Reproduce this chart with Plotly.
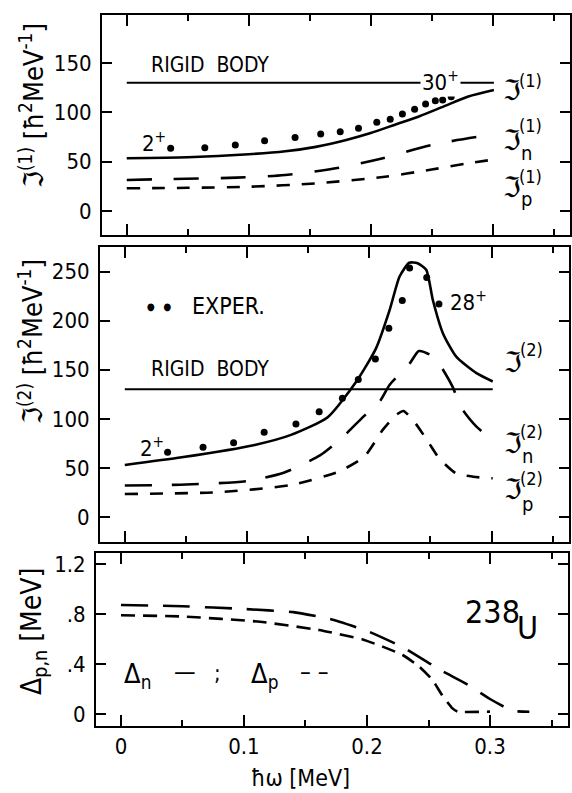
import plotly.graph_objects as go

# ---------------- data ----------------
# Panel 1: kinematic moment of inertia J(1)
hw_exp1 = [0.036, 0.064, 0.089, 0.113, 0.138, 0.159, 0.175, 0.190, 0.205, 0.216,
           0.226, 0.236, 0.245, 0.253, 0.259, 0.266]
J1_exp = [63.5, 64.1, 66.9, 71.2, 74.6, 78.0, 80.3, 83.8, 89.9, 92.9,
          98.3, 103.0, 108.4, 111.8, 112.5, 115.8]

hw_J1 = [0.0, 0.05, 0.10, 0.13, 0.155, 0.18, 0.20, 0.22, 0.24, 0.26, 0.28, 0.301]
J1_tot = [53.5, 54.5, 57.5, 60.5, 65.0, 72.0, 79.0, 87.5, 96.0, 106.0, 116.0, 122.6]

hw_J1n = [0.0, 0.03, 0.09, 0.13, 0.17, 0.21, 0.25, 0.30]
J1_n = [31.5, 32.3, 33.8, 36.5, 43.0, 53.5, 67.0, 77.5]

hw_J1p = [0.0, 0.05, 0.10, 0.155, 0.21, 0.25, 0.278, 0.30]
J1_p = [23.0, 23.5, 24.6, 28.0, 34.5, 42.0, 48.0, 52.0]

# Rigid body value (both J panels)
hw_rigid = [0.0, 0.301]
J_rigid = [130, 130]

# Panel 2: dynamic moment of inertia J(2)
hw_exp2 = [0.035, 0.064, 0.089, 0.114, 0.140, 0.159, 0.178, 0.191, 0.205, 0.216,
           0.227, 0.233, 0.247, 0.257]
J2_exp = [65.9, 71.0, 75.7, 86.3, 94.8, 107.3, 121.0, 140.0, 161.0, 192.3,
          220.5, 253.5, 244.0, 217.0]

hw_J2 = [0.0, 0.0465, 0.1063, 0.136, 0.166, 0.19, 0.2056, 0.2167, 0.2248, 0.2327,
         0.2395, 0.2466, 0.252, 0.2603, 0.2713, 0.2877, 0.301]
J2_tot = [53.0, 60.8, 73.4, 83.6, 101.6, 139.0, 172.0, 211.0, 245.0, 259.0,
          258.5, 251.8, 221.0, 187.0, 163.0, 146.5, 138.0]

hw_J2n = [0.0, 0.05, 0.10, 0.13, 0.16, 0.178, 0.195, 0.2085, 0.2167, 0.2333, 0.2405,
          0.25, 0.2577, 0.268, 0.2754, 0.2877, 0.301]
J2_n = [32.0, 33.0, 36.5, 45.0, 63.0, 81.0, 102.0, 117.5, 134.6, 156.7, 169.0,
        165.0, 155.0, 133.0, 111.0, 92.0, 78.5]

hw_J2p = [0.0, 0.0765, 0.136, 0.175, 0.196, 0.211, 0.222, 0.228, 0.238, 0.249,
          0.257, 0.271, 0.285, 0.301]
J2_p = [23.4, 25.2, 32.6, 46.2, 61.5, 88.7, 104.0, 108.0, 95.0, 75.0,
        60.0, 44.5, 41.0, 39.4]

# Panel 3: pairing gaps
hw_Dn = [0.0, 0.05, 0.10, 0.14, 0.17, 0.20, 0.23, 0.26, 0.28, 0.30, 0.311, 0.318, 0.332]
D_n = [0.872, 0.862, 0.840, 0.815, 0.760, 0.665, 0.530, 0.350, 0.245, 0.120, 0.060, 0.025, 0.018]

hw_Dp = [0.0, 0.05, 0.113, 0.161, 0.1965, 0.2127, 0.229, 0.2425, 0.2533, 0.261,
         0.2695, 0.2736, 0.30]
D_p = [0.790, 0.780, 0.738, 0.672, 0.597, 0.539, 0.472, 0.379, 0.272, 0.152,
       0.045, 0.019, 0.019]

x_tickvals = [0, 0.1, 0.2, 0.3]
x_ticktext = ["0", "0.1", "0.2", "0.3"]
x_minorvals = [0.05, 0.15, 0.25, 0.35]
y1_tickvals = [0, 50, 100, 150]
y2_tickvals = [0, 50, 100, 150, 200, 250]
y3_tickvals = [0, 0.4, 0.8, 1.2]
y3_ticktext = ["0", ".4", ".8", "1.2"]

# ---------------- figure ----------------
W, H = 572, 793
MT, MB = 15, 67
PH = H - MT - MB
FONT = "DejaVu Sans Condensed, Liberation Sans Narrow, DejaVu Sans, sans-serif"
BLK = "black"


def px(xp):
    return xp / W


def py(yp):
    return (H - MB - yp) / PH


fig = go.Figure()

LW = 2.6
solid = dict(color=BLK, width=LW)
mk = dict(color=BLK, size=7)


def add(x, y, line, ax, spline=True, smoothing=0.8):
    fig.add_trace(go.Scatter(x=x, y=y, mode="lines", line=line,
                             line_shape="spline" if spline else "linear",
                             line_smoothing=smoothing,
                             xaxis="x" + ax, yaxis="y" + ax, showlegend=False,
                             hoverinfo="skip"))


# panel 1 (axes x/y)
add(hw_rigid, J_rigid, dict(color=BLK, width=2), "", spline=False)
add(hw_J1, J1_tot, solid, "", smoothing=0.7)
add(hw_J1n, J1_n, dict(color=BLK, width=LW, dash="25px,22px"), "")
add(hw_J1p, J1_p, dict(color=BLK, width=LW, dash="13px,12px"), "")
fig.add_trace(go.Scatter(x=hw_exp1, y=J1_exp, mode="markers", marker=mk,
                         showlegend=False, xaxis="x", yaxis="y"))

# panel 2 (axes x2/y2)
add(hw_rigid, J_rigid, dict(color=BLK, width=2), "2", spline=False)
add(hw_J2, J2_tot, solid, "2", smoothing=0.6)
add(hw_J2n, J2_n, dict(color=BLK, width=LW, dash="27px,20px"), "2", smoothing=0.6)
add(hw_J2p, J2_p, dict(color=BLK, width=LW, dash="13px,12px"), "2", smoothing=0.6)
fig.add_trace(go.Scatter(x=hw_exp2, y=J2_exp, mode="markers", marker=mk,
                         showlegend=False, xaxis="x2", yaxis="y2"))

# panel 3 (axes x3/y3)
add(hw_Dn, D_n, dict(color=BLK, width=LW, dash="27px,15px"), "3", smoothing=0.4)
add(hw_Dp, D_p, dict(color=BLK, width=LW, dash="14px,8px"), "3", smoothing=0.4)

tickfont = dict(family=FONT, size=22, color=BLK)


def xax(dom, show_labels):
    return dict(domain=dom, range=[-0.0203, 0.3634], tickvals=x_tickvals,
                ticktext=x_ticktext, showticklabels=show_labels,
                ticks="inside", ticklen=11, tickwidth=2, tickcolor=BLK,
                minor=dict(tickvals=x_minorvals, ticks="inside",
                           ticklen=6, tickwidth=2, tickcolor=BLK),
                showline=True, linewidth=2, linecolor=BLK, mirror="allticks",
                showgrid=False, zeroline=False, tickfont=tickfont,
                automargin=False, fixedrange=True)


def yax(dom, rng, tv, tt=None):
    d = dict(domain=[py(dom[1]), py(dom[0])], range=rng, tickvals=tv,
             ticks="inside", ticklen=10, tickwidth=2, tickcolor=BLK,
             showline=True, linewidth=2, linecolor=BLK, mirror="allticks",
             showgrid=False, zeroline=False, tickfont=tickfont,
             automargin=False, ticklabelstandoff=4)
    if tt is not None:
        d["ticktext"] = tt
    return d


fig.update_layout(
    width=W, height=H, margin=dict(l=0, r=0, t=MT, b=MB),
    paper_bgcolor="white", plot_bgcolor="white",
    font=dict(family=FONT, color=BLK),
    xaxis=dict(**xax([px(102), px(570)], False), anchor="y"),
    yaxis=dict(**yax([15, 235], [-24.3, 198.6], y1_tickvals), anchor="x"),
    xaxis2=dict(**xax([px(100), px(569)], False), anchor="y2"),
    yaxis2=dict(**yax([247, 542], [-25.5, 275], y2_tickvals), anchor="x2"),
    xaxis3=dict(**xax([px(96), px(568)], True), anchor="y3"),
    yaxis3=dict(**yax([553, 726], [-0.096, 1.288], y3_tickvals, y3_ticktext), anchor="x3"),
)

ann = []


def A(text, x, y, size=20, xanchor="center", yanchor="middle", angle=0,
      xref="paper", yref="paper", bg=None):
    d = dict(text=text, x=x, y=y, xref=xref, yref=yref, showarrow=False,
             font=dict(family=FONT, size=size, color=BLK), xanchor=xanchor,
             yanchor=yanchor, textangle=angle)
    if bg:
        d["bgcolor"] = bg
    ann.append(d)


# axis titles
A("ℑ<sup>(1)</sup> [ħ<sup>2</sup>MeV<sup>-1</sup>]", px(32), py(106), size=27, angle=-90)
A("ℑ<sup>(2)</sup> [ħ<sup>2</sup>MeV<sup>-1</sup>]", px(30), py(342), size=27, angle=-90)
A("Δ<sub>p,n</sub> [MeV]", px(33), py(632), size=28, angle=-90)
A("ħω [MeV]", px(300), py(778), size=23)

# panel 1 labels
A("RIGID  BODY", 0.068, 148, size=21, xref="x", yref="y")
A("30<sup>+</sup>", 0.257, 132, size=22, xref="x", yref="y", bg="white")
A("2<sup>+</sup>", 0.022, 70, size=22, xref="x", yref="y")
A("ℑ", px(501), py(91), size=28, xanchor="left")
A("(1)", px(517), py(80), size=18, xanchor="left")
A("ℑ", px(501), py(140), size=28, xanchor="left")
A("(1)", px(517), py(126), size=18, xanchor="left")
A("n", px(519), py(153), size=20, xanchor="left")
A("ℑ", px(501), py(188), size=28, xanchor="left")
A("(1)", px(517), py(176), size=18, xanchor="left")
A("p", px(519), py(199), size=20, xanchor="left")

# panel 2 labels
A("RIGID  BODY", 0.070, 151, size=21, xref="x2", yref="y2")
A("●   ●", px(159), py(306), size=10)
A("EXPER.", px(190), py(306), size=23, xanchor="left")
A("28<sup>+</sup>", 0.281, 220, size=22, xref="x2", yref="y2")
A("2<sup>+</sup>", 0.0225, 71, size=22, xref="x2", yref="y2")
A("ℑ", px(502), py(362), size=28, xanchor="left")
A("(2)", px(518), py(350), size=18, xanchor="left")
A("ℑ", px(502), py(443), size=28, xanchor="left")
A("(2)", px(518), py(431), size=18, xanchor="left")
A("n", px(520), py(456), size=20, xanchor="left")
A("ℑ", px(502), py(489), size=28, xanchor="left")
A("(2)", px(518), py(478), size=18, xanchor="left")
A("p", px(520), py(504), size=20, xanchor="left")

# panel 3 labels
A("238", px(463), py(612), size=32, xanchor="left")
A("U", px(515), py(628), size=32, xanchor="left")
A("Δ<sub>n</sub>", px(122), py(675), size=27, xanchor="left")
A("—", px(172), py(672), size=24, xanchor="left")
A(";", px(212), py(673), size=22, xanchor="left")
A("Δ<sub>p</sub>", px(249), py(675), size=27, xanchor="left")
A("– –", px(298), py(672), size=24, xanchor="left")

fig.update_layout(annotations=ann)
fig.write_html("out.html")
